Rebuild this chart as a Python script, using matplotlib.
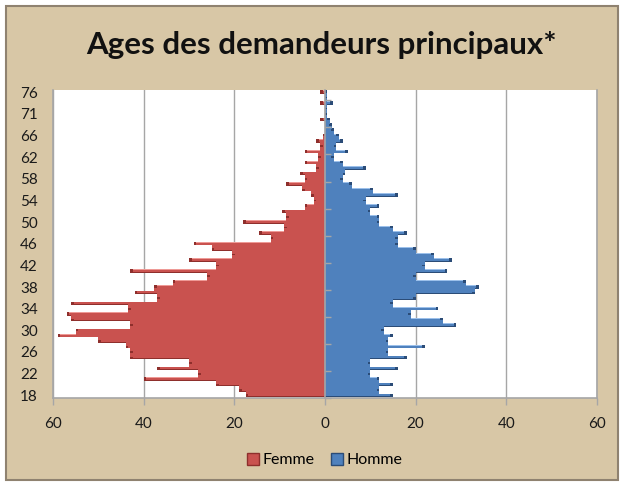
import numpy as np
import matplotlib
matplotlib.use('Agg')
import matplotlib.pyplot as plt
import matplotlib.patches as mpatches
from matplotlib.ticker import FuncFormatter

plt.rcParams['font.family'] = ['Lato', 'DejaVu Sans']

# categories (age), bottom to top
ages = [str(a) for a in range(18, 67)] + ['67', '68', '70', '71', '72', '73', '75', '76']

femme = [17.5, 19, 24, 40, 28, 37, 30, 43, 43, 44,
         50, 59, 55, 43, 56, 57, 43.5, 56, 37, 42,
         37.7, 33.6, 26, 43, 24, 30, 20.5, 25, 29, 12,
         14.5, 9, 18, 8.5, 9.5, 4.5, 2.5, 3, 5, 8.5,
         4.5, 5.5, 2, 4.5, 1.5, 4.5, 1, 2, 0.5, 0,
         0, 1, 0, 0, 1, 0, 1]

homme = [15, 12, 15, 12, 10, 16, 10, 18, 14, 22,
         14, 15, 13, 29, 26, 19, 25, 15, 20, 33,
         34, 31, 20, 27, 22, 28, 24, 20, 16, 16,
         18, 15, 12, 12, 10, 12, 9, 16, 10.6, 6,
         4, 4.5, 9, 4, 2, 5, 2.5, 4, 3, 2,
         1.5, 1, 0.5, 0.5, 1.7, 0.5, 0.5]

BG = '#D8C7A6'
GRID = '#A6A6A6'

fig = plt.figure(figsize=(6.24, 4.86), dpi=100)
fig.patch.set_facecolor('white')
fig.patches.append(mpatches.Rectangle((6 / 624, 6 / 486), 612 / 624, 474 / 486,
                                      transform=fig.transFigure, facecolor=BG,
                                      edgecolor='#8F8270', linewidth=1.5, zorder=-5))

ax = fig.add_axes([53 / 624, 1 - 398 / 486, 544 / 624, 308.5 / 486])
ax.set_facecolor('white')
ax.set_zorder(2)


def draw_side(vals, sign, main, light, dark):
    vals = np.array(vals, dtype=float)
    y = np.arange(len(vals))
    h = 0.64
    v = vals * sign
    ax.barh(y, v, height=h, color=main, zorder=3)
    ax.barh(y + h / 2 - 0.07, v, height=0.14, color=light, zorder=4)
    ax.barh(y - h / 2 + 0.07, v, height=0.14, color=dark, zorder=4)
    # darker tip of each bar
    tip = np.minimum(vals, 0.6)
    ax.barh(y, tip * sign, left=v - tip * sign, height=h, color=dark, zorder=4)
    # fill between neighbouring bars (glow effect of the original)
    fill = np.minimum(vals[:-1], vals[1:]) * sign
    ax.barh(y[:-1] + 0.5, fill, height=0.68, color=main, zorder=5)


draw_side(femme, -1, '#C9524F', '#EE9A96', '#8E2F2C')
draw_side(homme, 1, '#4F81BD', '#9CC0EA', '#2B4C77')

n = len(ages)
ax.set_ylim(-0.5, n - 0.5)
ax.set_xlim(-60, 60)
ax.set_xticks(np.arange(-60, 61, 20))
ax.xaxis.set_major_formatter(FuncFormatter(lambda x, p: '%d' % abs(x)))
ax.set_yticks(np.arange(0, n, 4))
ax.set_yticklabels(ages[::4])
ax.tick_params(axis='y', length=0, pad=11, labelsize=11, labelcolor='#1A1A1A')
ax.tick_params(axis='x', length=5, width=1, color=GRID, pad=9, labelsize=11,
               labelcolor='#1A1A1A')
ax.xaxis.grid(True, color=GRID, linewidth=1)
ax.set_axisbelow(True)
for s in ['left', 'right', 'bottom']:
    ax.spines[s].set_color(GRID)
    ax.spines[s].set_linewidth(1.2)
ax.spines['top'].set_visible(False)

# category axis at zero
sec = ax.secondary_yaxis(0.5)
sec.set_yticks(np.arange(-0.5, n, 5))
sec.set_yticklabels([])
sec.tick_params(direction='out', length=4, color=GRID, width=1)
for sp in sec.spines.values():
    sp.set_color(GRID)
    sp.set_linewidth(1.2)
sec.set_zorder(6)

fig.text(0.515, 1 - 45 / 486, 'Ages des demandeurs principaux*', ha='center', va='center',
         fontsize=22.5, fontweight='bold', color='#111111')

handles = [mpatches.Patch(facecolor='#C9524F', edgecolor='#8E2F2C', label='Femme'),
           mpatches.Patch(facecolor='#4F81BD', edgecolor='#2B4C77', label='Homme')]
fig.legend(handles=handles, loc='center', bbox_to_anchor=(0.52, 1 - 460 / 486), ncol=2,
           frameon=False, fontsize=11.5, handlelength=0.8, handleheight=0.8,
           handletextpad=0.2, columnspacing=1.0)

fig.savefig('out.png', dpi=100, facecolor=fig.get_facecolor())
